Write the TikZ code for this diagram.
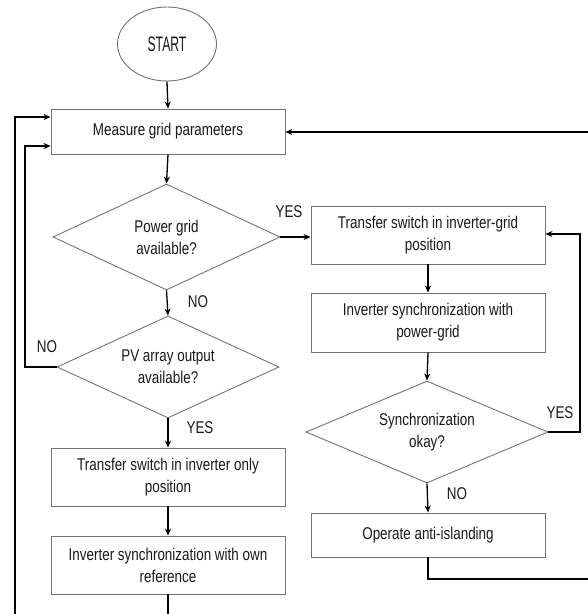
\documentclass[tikz,border=0pt]{standalone}
\usepackage{fontspec}
\setmainfont{Liberation Sans}[FakeStretch=0.79]
\newfontfamily\startfont{Liberation Sans}[FakeStretch=0.58]
\usetikzlibrary{shapes.geometric,arrows.meta}
\begin{document}
\begin{tikzpicture}[x=1pt,y=-1pt,
  every node/.style={font=\fontsize{17}{22}\selectfont, text=black!90},
  procbox/.style={draw=black!55, line width=0.9pt, rectangle, minimum width=234, minimum height=58, inner sep=0, align=center},
  decbox/.style={draw=black!55, line width=0.9pt, diamond, aspect=2, inner sep=0, align=center},
  flow/.style={draw=black, line width=1.3pt, -{Stealth[length=7pt,width=6pt]}},
  plain/.style={draw=black, line width=1.3pt},
  lab/.style={inner sep=0}]
\useasboundingbox (0,0) rectangle (588,614);
\node[draw=black!55, line width=0.9pt, ellipse, minimum width=99, minimum height=74, inner sep=0, font=\startfont\fontsize{21}{24}\selectfont] (start) at (167,44) {START};
\node[procbox, minimum height=45] (measure) at (168,131.5) {Measure grid parameters};
\node[decbox, minimum width=227, minimum height=106] (d1) at (166.5,237) {Power grid\\available?};
\node[procbox] (box2) at (428,235) {Transfer switch in inverter-grid\\position};
\node[procbox, minimum height=59] (box3) at (428,322.5) {Inverter synchronization with\\power-grid};
\node[decbox, minimum width=242, minimum height=102] (d2) at (427,432) {Synchronization\\okay?};
\node[procbox, minimum height=44] (op) at (428,535) {Operate anti-islanding};
\node[decbox, minimum width=222, minimum height=102] (d3) at (168,367) {PV array output\\available?};
\node[procbox] (box4) at (168,477) {Transfer switch in inverter only\\position};
\node[procbox] (box5) at (168,565) {Inverter synchronization with own\\reference};

\coordinate (l1b) at (15,620);
\coordinate (l1t) at (15,117);
\coordinate (l2) at (25,146);
\coordinate (rin) at (592,132);
\coordinate (rout) at (592,579);
\coordinate (opd) at (428,579);
\coordinate (rl) at (580,234);
\coordinate (bot) at (168,620);

\draw[flow] (start.south) -- (measure.north);
\draw[flow] (measure.south) -- (d1.north);
\draw[flow] (d1.east) -- (d1.east -| box2.west);
\draw[flow] (d1.south) -- (d3.north);
\draw[flow] (d3.west) -| (l2) -- (l2 -| measure.west);
\draw[flow] (d3.south) -- (box4.north);
\draw[flow] (box4.south) -- (box5.north);
\draw[plain] (box5.south) -- (bot);
\draw[flow] (l1b) -- (l1t) -- (l1t -| measure.west);
\draw[flow] (rin) -- (rin -| measure.east);
\draw[flow] (box2.south) -- (box3.north);
\draw[flow] (box3.south) -- (d2.north);
\draw[flow] (d2.south) -- (op.north);
\draw[flow] (d2.east) -| (rl) -- (rl -| box2.east);
\draw[plain] (op.south) -- (opd) -- (rout);

\node[lab] at (289,212) {YES};
\node[lab] at (198,302) {NO};
\node[lab] at (47,347) {NO};
\node[lab] at (200,428) {YES};
\node[lab] at (457,494) {NO};
\node[lab] at (560,413) {YES};
\end{tikzpicture}
\end{document}
